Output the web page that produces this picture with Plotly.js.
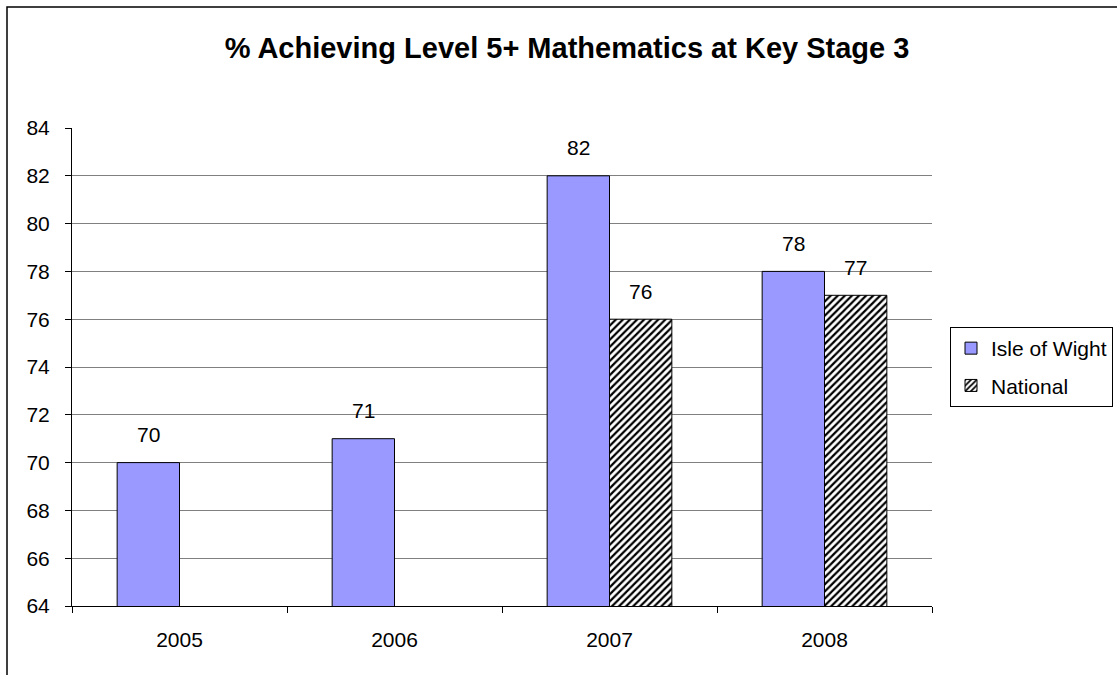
<!DOCTYPE html>
<html>
<head>
<meta charset="utf-8">
<script src="https://cdn.plot.ly/plotly-3.0.1.min.js"></script>
<style>html,body{margin:0;padding:0;background:#fff;}</style>
</head>
<body>
<div id="chart" style="width:1117px;height:675px;"></div>
<script>
const years = ['2005', '2006', '2007', '2008'];
const isleOfWight = [70, 71, 82, 78];
const national = [null, null, 76, 77];
const seriesNames = ['Isle of Wight', 'National'];

const W = 1117, H = 675;
const m = {l: 72, r: 185, t: 128, b: 69};
const pw = W - m.l - m.r, ph = H - m.t - m.b;
const px = v => (v - m.l) / pw;
const py = v => (H - m.b - v) / ph;

const font = {family: 'Liberation Sans, Arial, sans-serif', size: 21, color: '#000'};
const bargap = 0.42;
// half a bar's width, in category units (group of 2 bars)
const halfBar = (1 - bargap) / 4;

const traces = [
  {
    type: 'bar', name: seriesNames[0], x: years, y: isleOfWight, legendgroup: 'a',
    marker: {color: '#9999FF', line: {color: '#000', width: 1}}
  },
  {
    type: 'bar', name: seriesNames[1], x: years, y: national, legendgroup: 'b',
    marker: {color: '#ffffff', line: {color: '#000', width: 1},
      pattern: {shape: '/', fgcolor: '#000', bgcolor: '#fff', size: 5, solidity: 0.45}}
  }
];

const annotations = [];
[isleOfWight, national].forEach((series, s) => {
  series.forEach((v, i) => {
    if (v == null) return;
    annotations.push({
      x: i + (s === 0 ? -halfBar : halfBar), y: v, xref: 'x', yref: 'y',
      text: String(v), showarrow: false,
      font: {family: font.family, size: font.size, color: font.color},
      xanchor: 'center', yanchor: 'middle', yshift: 28
    });
  });
});

const layout = {
  width: W, height: H,
  margin: m,
  paper_bgcolor: '#fff', plot_bgcolor: '#fff',
  font: font,
  barmode: 'group', bargap: bargap, bargroupgap: 0,
  title: {text: '<b>% Achieving Level 5+ Mathematics at Key Stage 3</b>',
    font: {family: 'Liberation Sans, Arial, sans-serif', size: 29, color: '#000'},
    x: 567 / W, xref: 'container', xanchor: 'center',
    y: 1 - 48 / H, yref: 'container', yanchor: 'middle'},
  xaxis: {type: 'category', categoryarray: years, categoryorder: 'array', range: [-0.5, years.length - 0.5],
    showgrid: false, showline: true, linecolor: '#000', linewidth: 1,
    ticks: 'outside', tickson: 'boundaries', ticklen: 6, tickcolor: '#000',
    ticklabelstandoff: 15, tickfont: font, zeroline: false},
  yaxis: {range: [64, 84], dtick: 2, tick0: 64, showgrid: true, gridcolor: '#808080', gridwidth: 1,
    showline: true, linecolor: '#000', linewidth: 1, ticks: 'outside', ticklen: 6, tickcolor: '#000',
    ticklabelstandoff: 11, tickfont: font, zeroline: false},
  legend: {xref: 'container', yref: 'container', x: 950 / W, y: 1 - 327 / H, xanchor: 'left', yanchor: 'top',
    bordercolor: '#000', borderwidth: 1, bgcolor: '#fff', font: font,
    traceorder: 'grouped', tracegroupgap: 7, itemwidth: 30},
  showlegend: true,
  annotations: annotations,
  shapes: [
    {type: 'rect', xref: 'paper', yref: 'paper', x0: px(7), x1: px(1140), y0: py(700), y1: py(7),
     line: {color: '#000', width: 1.5}, fillcolor: 'rgba(0,0,0,0)', layer: 'below'}
  ]
};

Plotly.newPlot('chart', traces, layout, {displayModeBar: false, staticPlot: true});
</script>
</body>
</html>
